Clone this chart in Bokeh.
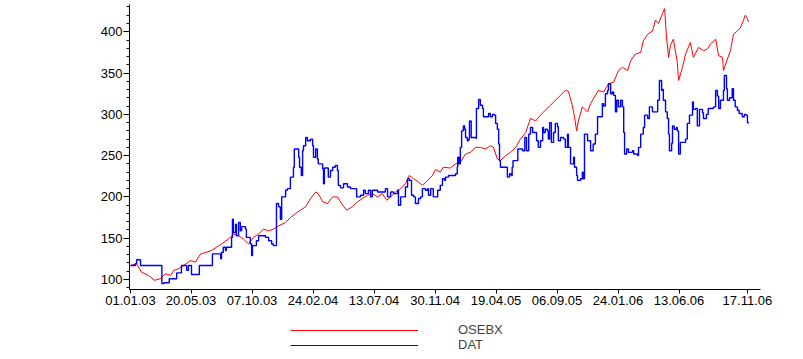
from datetime import date
from bokeh.plotting import figure
from bokeh.layouts import column
from bokeh.models import Range1d, FixedTicker, Label, Legend
from bokeh.embed import file_html
from bokeh.resources import INLINE

# x values are days since 01.01.03
osebx_day = [0, 14, 25, 41, 55, 69, 80, 92, 99, 110, 122, 138, 149, 161, 174, 186, 197, 209, 225, 236,
             248, 259, 271, 282, 294, 305, 317, 328, 340, 356, 367, 379, 390, 402, 413, 425, 431, 441, 452, 464,
             475, 487, 496, 509, 521, 532, 544, 555, 567, 578, 588, 597, 608, 620, 631, 640, 650, 661, 670, 682,
             693, 700, 711, 718, 734, 746, 757, 769, 780, 792, 803, 815, 826, 833, 842, 849, 861, 872, 884, 895,
             907, 918, 930, 941, 952, 964, 975, 987, 998, 1005, 1014, 1019, 1024, 1028, 1037, 1049, 1056, 1067, 1074, 1086,
             1097, 1109, 1120, 1129, 1141, 1148, 1159, 1171, 1177, 1187, 1198, 1205, 1212, 1221, 1226, 1230, 1235, 1239, 1246, 1255,
             1258, 1267, 1274, 1285, 1292, 1304, 1315, 1324, 1331, 1343, 1350, 1359, 1361, 1370, 1377, 1384, 1393, 1400, 1407, 1411,
             1416, 1418]
osebx_val = [117, 119, 109, 105, 99, 101, 107, 105, 111, 113, 117, 123, 121, 131, 133, 135, 139, 143, 149, 155,
             153, 149, 143, 151, 155, 161, 159, 161, 165, 169, 175, 180, 184, 188, 198, 206, 204, 194, 192, 200,
             200, 190, 184, 188, 194, 198, 202, 204, 200, 204, 196, 200, 206, 210, 216, 226, 222, 218, 214, 220,
             226, 233, 230, 236, 235, 240, 242, 252, 254, 260, 260, 258, 262, 260, 246, 244, 250, 254, 260, 270,
             278, 295, 292, 299, 305, 311, 317, 323, 329, 328, 311, 297, 280, 292, 309, 303, 313, 323, 329, 327,
             337, 339, 353, 357, 353, 365, 373, 375, 389, 397, 401, 414, 410, 422, 428, 395, 369, 383, 391, 363,
             341, 357, 373, 387, 369, 381, 377, 379, 385, 391, 371, 369, 353, 367, 377, 397, 401, 405, 414, 420,
             416, 412]

dat_day = [0, 11, 14, 21, 23, 71, 72, 76, 87, 89, 103, 106, 115, 117, 126, 129, 133, 140, 156, 158,
           186, 188, 197, 207, 209, 213, 218, 220, 230, 232, 234, 236, 241, 243, 248, 252, 255, 264, 266, 275,
           278, 280, 289, 294, 305, 310, 317, 324, 328, 333, 335, 340, 344, 347, 356, 360, 367, 374, 376, 383,
           386, 388, 392, 395, 397, 402, 406, 413, 418, 420, 425, 429, 431, 441, 443, 445, 452, 454, 459, 464,
           470, 475, 477, 482, 489, 498, 505, 516, 519, 528, 535, 539, 546, 551, 555, 567, 578, 585, 590, 597,
           604, 613, 615, 620, 627, 631, 636, 640, 645, 650, 654, 661, 666, 670, 677, 682, 684, 689, 693, 695,
           700, 705, 711, 716, 721, 723, 730, 739, 746, 750, 751, 754, 757, 760, 764, 767, 769, 773, 776, 778,
           782, 792, 794, 799, 803, 808, 810, 819, 822, 826, 831, 835, 838, 842, 845, 847, 849, 861, 865, 870,
           874, 876, 878, 887, 889, 898, 900, 905, 909, 914, 918, 923, 927, 932, 936, 941, 946, 948, 952, 957,
           959, 962, 966, 971, 975, 980, 982, 987, 994, 998, 1003, 1005, 1010, 1017, 1019, 1024, 1026, 1033, 1037, 1039,
           1042, 1049, 1056, 1062, 1067, 1072, 1079, 1083, 1086, 1090, 1095, 1097, 1102, 1106, 1109, 1113, 1116, 1120, 1125, 1129,
           1132, 1134, 1139, 1143, 1152, 1155, 1164, 1166, 1171, 1177, 1180, 1187, 1191, 1198, 1205, 1210, 1214, 1219, 1221, 1223,
           1228, 1232, 1235, 1237, 1242, 1244, 1248, 1253, 1255, 1258, 1262, 1269, 1274, 1278, 1283, 1290, 1292, 1297, 1301, 1306,
           1313, 1315, 1322, 1326, 1336, 1338, 1343, 1347, 1350, 1354, 1361, 1363, 1368, 1370, 1375, 1381, 1384, 1388, 1393, 1397,
           1404, 1409, 1413, 1416, 1418]
dat_val = [117, 119, 124, 124, 117, 117, 95, 96, 96, 101, 101, 108, 108, 117, 117, 111, 117, 106, 106, 117,
           117, 131, 131, 125, 133, 139, 135, 139, 139, 151, 173, 157, 167, 153, 169, 159, 164, 161, 151, 143,
           129, 141, 147, 153, 153, 151, 147, 143, 141, 141, 192, 188, 173, 200, 208, 210, 224, 236, 258, 258,
           248, 236, 226, 256, 262, 272, 268, 270, 262, 248, 258, 246, 240, 234, 216, 235, 235, 224, 232, 236,
           238, 232, 214, 211, 216, 212, 210, 210, 200, 202, 208, 204, 208, 200, 208, 206, 206, 210, 200, 206,
           204, 208, 190, 200, 200, 212, 222, 220, 202, 200, 192, 198, 200, 210, 208, 210, 202, 210, 210, 200,
           200, 208, 214, 222, 220, 224, 226, 226, 228, 236, 248, 240, 260, 280, 286, 282, 272, 268, 270, 292,
           272, 271, 307, 318, 311, 307, 297, 297, 301, 297, 300, 299, 289, 282, 264, 244, 236, 236, 224, 228,
           226, 236, 244, 244, 258, 258, 256, 272, 256, 276, 284, 278, 278, 268, 260, 268, 284, 278, 282, 280,
           270, 290, 266, 278, 289, 285, 268, 272, 270, 260, 276, 260, 240, 248, 236, 226, 220, 222, 230, 222,
           276, 268, 256, 264, 276, 297, 297, 313, 310, 325, 329, 337, 325, 327, 323, 303, 317, 309, 317, 309,
           278, 252, 258, 254, 256, 252, 250, 260, 276, 284, 299, 295, 309, 303, 303, 317, 341, 329, 330, 317,
           303, 295, 276, 256, 265, 286, 282, 284, 280, 252, 266, 266, 270, 289, 299, 315, 306, 307, 286, 306,
           302, 295, 300, 307, 307, 309, 329, 322, 307, 317, 329, 347, 331, 317, 320, 331, 317, 309, 305, 301,
           297, 300, 299, 290, 289]

x_tick_labels = ["01.01.03", "20.05.03", "07.10.03", "24.02.04", "13.07.04", "30.11.04",
                 "19.04.05", "06.09.05", "24.01.06", "13.06.06", "17.11.06"]
y_ticks = [100, 150, 200, 250, 300, 350, 400]
series_names = ["OSEBX", "DAT"]
series_colors = ["#ff0000", "#0000ff"]

start = date(2003, 1, 1)
def to_day(s):
    d, m, y = s.split(".")
    return (date(2000 + int(y), int(m), int(d)) - start).days

x_tick_pos = [to_day(s) for s in x_tick_labels]

FONT = "Liberation Sans"

p = figure(width=803, height=315, x_range=Range1d(-2.3, 1446), y_range=Range1d(87.9, 433),
           min_border_left=129, min_border_right=43, min_border_top=4, min_border_bottom=26,
           output_backend="svg", toolbar_location=None)
p.outline_line_color = None
p.xgrid.visible = False
p.ygrid.visible = False
p.background_fill_color = "white"
p.border_fill_color = "white"

p.line(osebx_day, osebx_val, line_color=series_colors[0], line_width=1)
p.step(dat_day, dat_val, mode="after", line_color=series_colors[1], line_width=1.4)

xa = p.xaxis[0]
xa.ticker = FixedTicker(ticks=x_tick_pos, minor_ticks=[])
xa.major_label_overrides = {pos: lab for pos, lab in zip(x_tick_pos, x_tick_labels)}
xa.major_tick_in = 0
xa.major_tick_out = 4
xa.major_label_standoff = 2
xa.major_label_text_font = FONT
xa.major_label_text_font_size = "13px"
xa.major_label_text_color = "black"
xa.axis_line_color = "black"

ya = p.yaxis[0]
ya.ticker = FixedTicker(ticks=y_ticks, minor_ticks=list(range(90, 431, 10)))
ya.major_tick_in = 0
ya.major_tick_out = 6
ya.minor_tick_in = 0
ya.minor_tick_out = 3
ya.major_label_standoff = 1
ya.major_label_text_font = FONT
ya.major_label_text_font_size = "13px"
ya.major_label_text_color = "black"
ya.axis_line_color = "black"

lab = Label(x=-98, y=141, x_units="screen", y_units="screen", text="OSEBX",
            text_font=FONT, text_font_size="13px", text_baseline="middle", text_color="black")
p.add_layout(lab)

# legend strip below the chart (its swatch renderers sit outside the visible range)
q = figure(width=803, height=44, x_range=Range1d(0, 1), y_range=Range1d(0, 1),
           min_border_left=0, min_border_right=0, min_border_top=0, min_border_bottom=0,
           x_axis_type=None, y_axis_type=None, output_backend="svg", toolbar_location=None)
q.outline_line_color = None
q.xgrid.visible = False
q.ygrid.visible = False
q.background_fill_color = "white"
q.border_fill_color = "white"
rs = [q.line([5, 6], [5, 6], line_color=c, line_width=1) for c in series_colors]

legend = Legend(items=[(n, [r]) for n, r in zip(series_names, rs)], location=(161, 7),
                glyph_width=128, glyph_height=14, label_height=14, label_standoff=40,
                spacing=0, padding=0, margin=0, border_line_color=None,
                background_fill_alpha=0, label_text_font=FONT, label_text_font_size="13px")
q.add_layout(legend)

layout = column(p, q, spacing=0)
open("out.html", "w").write(file_html(layout, INLINE))
